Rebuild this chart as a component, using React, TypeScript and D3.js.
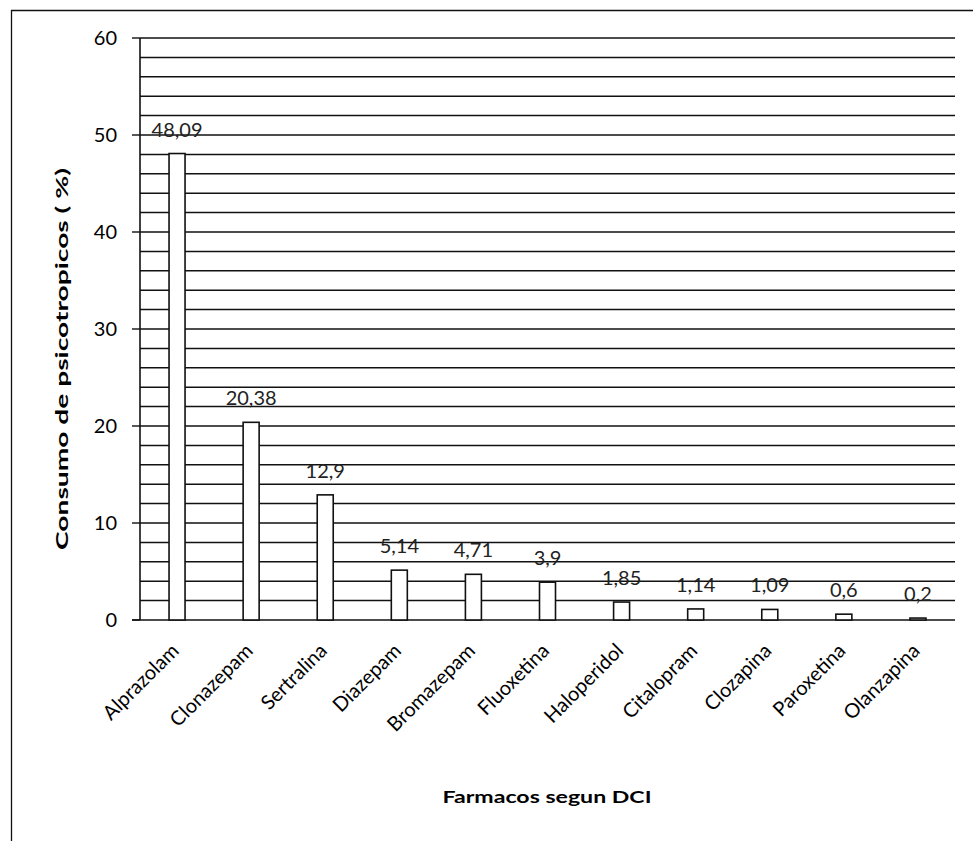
import React from "react";
import * as d3 from "d3";

const categories = [
  "Alprazolam", "Clonazepam", "Sertralina", "Diazepam", "Bromazepam",
  "Fluoxetina", "Haloperidol", "Citalopram", "Clozapina", "Paroxetina", "Olanzapina",
];
const values = [48.09, 20.38, 12.9, 5.14, 4.71, 3.9, 1.85, 1.14, 1.09, 0.6, 0.2];
const valueLabels = ["48,09", "20,38", "12,9", "5,14", "4,71", "3,9", "1,85", "1,14", "1,09", "0,6", "0,2"];
const yTicks = [0, 10, 20, 30, 40, 50, 60];
const gridValues = d3.range(2, 61, 2);

const W = 973;
const H = 841;
const plotLeft = 140;
const plotRight = 955;
const plotTop = 38;
const plotBottom = 620;
const font = "Lato, 'Open Sans', 'DejaVu Sans', sans-serif";

export default function App() {
  const x = d3.scaleBand<string>().domain(categories).range([plotLeft, plotRight]);
  const y = d3.scaleLinear().domain([0, 60]).range([plotBottom, plotTop]);
  const barW = 16;

  return (
    <svg
      width={W}
      height={H}
      style={{ position: "absolute", left: 0, top: 0, background: "#fff" }}
      fontFamily={font}
    >
      <rect x={0} y={0} width={W} height={H} fill="#fff" />
      {/* outer frame */}
      <line x1={11} y1={10.5} x2={W} y2={10.5} stroke="#111" strokeWidth={1.3} />
      <line x1={11.5} y1={10} x2={11.5} y2={H} stroke="#111" strokeWidth={1.3} />

      {/* gridlines */}
      {gridValues.map((g) => (
        <line
          key={g}
          x1={plotLeft}
          x2={plotRight}
          y1={y(g)}
          y2={y(g)}
          stroke="#111"
          strokeWidth={1.5}
        />
      ))}

      {/* y axis */}
      <line x1={plotLeft} x2={plotLeft} y1={plotTop} y2={plotBottom} stroke="#111" strokeWidth={1.6} />
      <line x1={132} x2={plotRight} y1={plotBottom} y2={plotBottom} stroke="#111" strokeWidth={1.6} />
      {yTicks.map((t) => (
        <g key={t}>
          <line x1={132} x2={plotLeft} y1={y(t)} y2={y(t)} stroke="#111" strokeWidth={1.4} />
          <text x={117} y={y(t)} dy="0.35em" textAnchor="end" fontSize={20} fill="#000">
            {t}
          </text>
        </g>
      ))}

      {/* bars */}
      {categories.map((c, i) => {
        const cx = (x(c) as number) + x.bandwidth() / 2;
        return (
          <g key={c}>
            <rect
              x={cx - barW / 2}
              y={y(values[i])}
              width={barW}
              height={plotBottom - y(values[i])}
              fill="#fff"
              stroke="#111"
              strokeWidth={1.6}
            />
            <text
              x={cx}
              y={y(values[i]) - 17}
              textAnchor="middle"
              fontSize={20}
              fill="#222"
            >
              {valueLabels[i]}
            </text>
            <text
              transform={`translate(${cx + 3},${652}) rotate(-45)`}
              textAnchor="end"
              fontSize={20}
              fill="#000"
            >
              {c}
            </text>
          </g>
        );
      })}

      {/* axis titles */}
      <text
        transform={`translate(${68},${359}) rotate(-90)`}
        textAnchor="middle"
        fontSize={17}
        fontWeight="bold"
        fill="#000"
        textLength={382}
        lengthAdjust="spacingAndGlyphs"
      >
        Consumo  de psicotropicos ( %)
      </text>
      <text
        x={547}
        y={803}
        textAnchor="middle"
        fontSize={17}
        fontWeight="bold"
        fill="#000"
        textLength={209}
        lengthAdjust="spacingAndGlyphs"
      >
        Farmacos  segun DCI
      </text>
    </svg>
  );
}
